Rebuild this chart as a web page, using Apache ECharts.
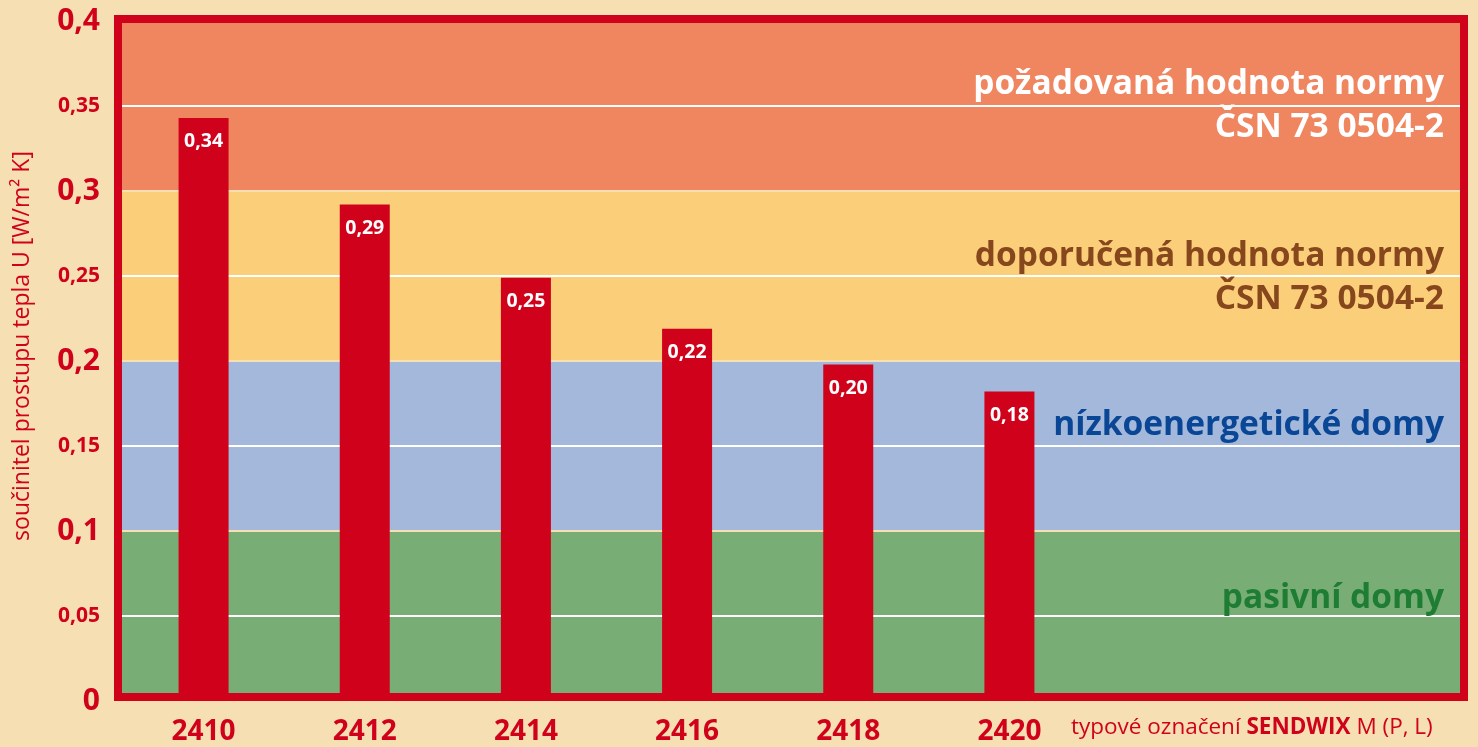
<!DOCTYPE html>
<html>
<head>
<meta charset="utf-8">
<script src="https://cdn.jsdelivr.net/npm/echarts@6/dist/echarts.min.js"></script>
<style>
  html, body { margin: 0; padding: 0; background: #f6dfb3; }
  #chart { width: 1478px; height: 747px; }
</style>
</head>
<body>
<div id="chart"></div>
<script>
// data
const categories = ['2410', '2412', '2414', '2416', '2418', '2420']
const uValues = [0.343, 0.292, 0.249, 0.219, 0.198, 0.182]
const yMin = 0
const yMax = 0.4
const yInterval = 0.05
const bandEdges = [0.3, 0.2, 0.1, 0]
const bandTops = [0.4, 0.3, 0.2, 0.1]
const bandTexts = [
  'požadovaná hodnota normy\nČSN 73 0504-2',
  'doporučená hodnota normy\nČSN 73 0504-2',
  'nízkoenergetické domy',
  'pasivní domy'
]
const axisName = 'součinitel prostupu tepla U [W/m² K]'

const RED = '#d0021b'
const FONT = 'Open Sans'
const bandTextColors = ['#ffffff', '#87471d', '#0a4696', '#1e7d33']
const bandOffsets = [[0, 0], [0, 2], [0, -21], [0, -18]]
// one colour per 0.05 step, from the bottom
const areaColors = ['#78ad76', '#78ad76', '#a3b8da', '#a3b8da', '#fbce7a', '#fbce7a', '#ef8660', '#ef8660']

const fmt = (v) => (+v.toFixed(2)).toString().replace('.', ',')
const fmt2 = (v) => v.toFixed(2).replace('.', ',')

const chart = echarts.init(document.getElementById('chart'))

const bandAreas = bandTexts.map((t, i) => [
  {
    yAxis: bandEdges[i],
    name: t,
    label: {
      show: true,
      position: 'insideRight',
      distance: 20,
      offset: bandOffsets[i],
      color: bandTextColors[i],
      fontFamily: FONT,
      fontWeight: 'bold',
      fontSize: 33.5,
      lineHeight: 43,
      align: 'right'
    }
  },
  { yAxis: bandTops[i] }
])

chart.setOption({
  backgroundColor: '#f6dfb3',
  animation: false,
  title: {
    left: 1066,
    top: 711,
    text: '{n|typové označení }{b|SENDWIX}{n| M (P, L)}',
    textStyle: {
      rich: {
        n: { color: RED, fontFamily: FONT, fontSize: 22.5, fontWeight: 'normal' },
        b: { color: RED, fontFamily: FONT, fontSize: 22.5, fontWeight: 'bold' }
      }
    }
  },
  grid: [
    // red frame
    { left: 118, right: 14, top: 19, bottom: 50, show: true, borderColor: RED, borderWidth: 8, z: 3 },
    // coloured bands + y axis
    { left: 118, right: 14, top: 21, bottom: 46 },
    // bars
    { left: 123, width: 967, top: 21, bottom: 46 }
  ],
  xAxis: [
    { gridIndex: 0, type: 'value', show: false },
    { gridIndex: 1, type: 'value', show: false, min: 0, max: 1 },
    {
      gridIndex: 2,
      type: 'category',
      data: categories,
      axisLine: { show: false },
      axisTick: { show: false },
      axisLabel: { margin: 17, color: RED, fontFamily: FONT, fontWeight: 'bold', fontSize: 28 }
    }
  ],
  yAxis: [
    { gridIndex: 0, type: 'value', show: false },
    {
      gridIndex: 1,
      type: 'value',
      min: yMin,
      max: yMax,
      interval: yInterval,
      name: axisName,
      nameLocation: 'middle',
      nameGap: 84,
      nameTextStyle: { color: RED, fontFamily: FONT, fontSize: 23, padding: [0, 0, 0, 30] },
      axisLine: { show: false },
      axisTick: { show: false },
      axisLabel: {
        margin: 18,
        formatter: (v) => {
          const big = Math.round(v * 100) % 10 === 0
          return (big ? '{a|' : '{b|') + fmt(v) + '}'
        },
        rich: {
          a: { color: RED, fontFamily: FONT, fontWeight: 'bold', fontSize: 30 },
          b: { color: RED, fontFamily: FONT, fontWeight: 'bold', fontSize: 21 }
        }
      },
      splitLine: { show: true, lineStyle: { color: ['#f6dfb3', '#ffffff'], width: 2 } },
      splitArea: { show: true, areaStyle: { color: areaColors, opacity: 1 } }
    },
    { gridIndex: 2, type: 'value', min: yMin, max: yMax, show: false }
  ],
  series: [
    {
      type: 'line',
      xAxisIndex: 1,
      yAxisIndex: 1,
      data: [],
      silent: true,
      markArea: {
        silent: true,
        itemStyle: { color: 'rgba(0,0,0,0)' },
        data: bandAreas
      }
    },
    {
      type: 'bar',
      xAxisIndex: 2,
      yAxisIndex: 2,
      data: uValues,
      barWidth: 50,
      itemStyle: { color: RED },
      label: {
        show: true,
        position: 'insideTop',
        distance: 14,
        color: '#ffffff',
        fontFamily: FONT,
        fontWeight: 'bold',
        fontSize: 19.5,
        formatter: (p) => fmt2(p.value)
      }
    }
  ]
})
</script>
</body>
</html>
